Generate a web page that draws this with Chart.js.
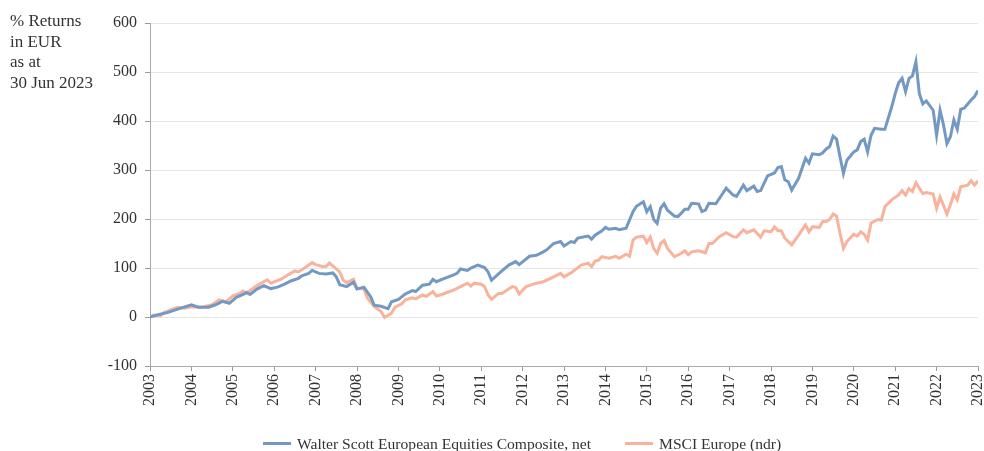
<!DOCTYPE html>
<html>
<head>
<meta charset="utf-8">
<script src="https://cdn.jsdelivr.net/npm/chart.js@4"></script>
<style>
  html, body { margin: 0; padding: 0; background: #fff; }
  #wrap { position: relative; width: 984px; height: 451px; font-family: "Liberation Serif", "DejaVu Serif", serif; color: #333; }
  #title { position: absolute; left: 10px; top: 11px; font-size: 17px; line-height: 20.5px; color: #333; }
  #legend { position: absolute; left: 263px; top: 431px; font-size: 15.6px; color: #333; white-space: nowrap; }
  .item { display: inline-flex; align-items: center; }
  .swatch { display: inline-block; width: 28px; height: 3px; margin-right: 6px; }
  canvas { position: absolute; left: 0; top: 0; }
</style>
</head>
<body>
<div id="wrap">
  <canvas id="c" width="984" height="451"></canvas>
  <div id="title">% Returns<br>in EUR<br>as at<br>30 Jun 2023</div>
  <div id="legend">
    <span class="item"><span class="swatch" style="background:#7399c3"></span>Walter Scott European Equities Composite, net</span>
    <span class="item" style="margin-left:30px"><span class="swatch" style="background:#f9b29c"></span>MSCI Europe (ndr)</span>
  </div>
</div>
<script>
// Month index since start (0 = start of 2003, 240 = 2023)
const startYear = 2003;
const yTicks = [-100, 0, 100, 200, 300, 400, 500, 600];
const seriesNames = ["Walter Scott European Equities Composite, net", "MSCI Europe (ndr)"];

const wsMonths = [0,2,5,8,12,14,17,19,21,23,25,27,28,29,31,33,35,37,39,41,43,44,46,47,48,49,51,53,54,55,57,59,60,62,64,65,67,69,70,72,74,76,77,79,81,82,83,85,88,89,90,92,93,95,97,98,99,101,102,104,106,107,110,112,114,115,117,119,120,122,123,124,127,128,129,131,132,133,135,136,138,140,141,143,144,145,146,147,148,149,150,152,153,154,155,156,157,159,160,161,162,164,166,167,169,170,172,173,175,176,177,179,181,182,183,184,185,186,188,190,191,192,194,195,196,197,198,199,200,201,202,204,205,206,207,208,209,210,212,213,214,215,216,217,218,219,220,221,222,223,224,225,227,228,229,230,231,232,233,234,235,236,238,239,240];
const wsValues = [0,4,9,16,25,20,20,25,32,28,40,46,50,46,57,64,58,61,67,74,79,84,89,95,92,89,88,90,82,66,62,71,57,61,41,24,22,17,31,36,47,54,52,65,67,77,72,78,86,89,98,95,100,106,101,92,75,88,94,106,113,107,124,126,133,137,150,154,145,154,152,161,165,159,167,176,183,179,181,178,181,215,226,235,215,225,199,191,222,231,218,206,205,212,220,220,232,231,215,218,232,231,252,263,249,246,269,258,267,256,258,288,294,305,307,280,276,259,283,324,314,333,331,335,343,348,369,363,327,293,320,337,341,358,363,337,371,385,383,383,406,429,456,478,487,460,487,492,521,456,435,441,422,371,422,392,354,368,402,383,424,426,443,450,462];

const msMonths = [0,1,3,4,8,10,12,15,18,20,22,24,26,27,28,31,34,35,38,40,42,43,45,47,48,50,51,52,54,55,56,57,59,60,62,63,65,67,68,70,71,73,74,76,77,79,80,82,83,85,86,88,90,92,93,94,96,97,98,99,101,102,105,106,107,109,112,114,117,119,120,122,125,127,128,129,130,131,133,135,136,138,139,140,141,143,144,145,146,147,148,149,150,152,154,155,156,157,159,161,162,163,165,167,169,170,172,173,175,177,178,180,181,182,183,184,186,188,190,191,192,194,195,196,197,198,199,200,201,202,204,205,206,207,208,209,211,212,213,215,217,218,219,220,221,222,224,225,227,228,229,231,232,233,234,235,237,238,239,240];
const msValues = [0,4,2,9,20,18,21,20,25,35,31,43,48,53,49,64,76,69,77,86,94,92,101,111,107,103,103,110,98,92,75,70,77,59,57,39,21,11,-1,8,20,27,35,39,37,45,42,52,43,47,50,55,62,69,63,69,67,62,45,36,48,48,62,60,47,62,69,72,82,89,82,90,106,110,103,114,116,123,120,124,120,128,124,157,163,165,152,163,140,130,150,156,140,123,130,135,127,133,135,131,150,150,164,172,164,163,178,172,178,163,176,174,184,176,176,161,147,167,188,174,184,183,195,195,199,210,206,171,140,154,169,165,174,169,157,192,199,198,225,239,249,258,249,262,256,274,252,254,251,222,245,210,229,251,239,266,269,278,269,278];

const toPoints = (xs, ys) => xs.map((x, i) => ({ x: x, y: ys[i] }));

const serif = '"Liberation Serif", "DejaVu Serif", serif';

new Chart(document.getElementById('c'), {
  type: 'line',
  data: {
    datasets: [
      { label: seriesNames[0], data: toPoints(wsMonths, wsValues), borderColor: '#7399c3', borderWidth: 3, pointRadius: 0, tension: 0, order: 1 },
      { label: seriesNames[1], data: toPoints(msMonths, msValues), borderColor: '#f9b29c', borderWidth: 3, pointRadius: 0, tension: 0, order: 2 }
    ]
  },
  options: {
    responsive: false,
    animation: false,
    layout: { padding: { left: 0, right: 6, top: 23, bottom: 35 } },
    plugins: { legend: { display: false }, tooltip: { enabled: false } },
    scales: {
      x: {
        type: 'linear', min: 0, max: 240,
        afterBuildTicks: (s) => { s.ticks = []; for (let m = 0; m <= 240; m += 12) s.ticks.push({ value: m }); },
        afterFit: (s) => { s.height = 50; s.paddingLeft = 0; s.paddingRight = 0; },
        ticks: {
          minRotation: 90, maxRotation: 90, autoSkip: false, padding: 3,
          color: '#333', font: { family: serif, size: 16 },
          callback: (v) => String(startYear + v / 12)
        },
        grid: { drawOnChartArea: false, drawTicks: true, tickLength: 5, tickColor: '#999' },
        border: { display: true, color: '#aaa', width: 1 }
      },
      y: {
        min: -100, max: 600,
        afterBuildTicks: (s) => { s.ticks = yTicks.map(v => ({ value: v })); },
        afterFit: (s) => { s.width = 150; s.paddingTop = 0; s.paddingBottom = 0; },
        ticks: { color: '#333', padding: 8, font: { family: serif, size: 16 } },
        grid: { color: '#e6e6e6', lineWidth: 1, drawTicks: true, tickLength: 5, tickColor: '#999' },
        border: { display: true, color: '#aaa', width: 1 }
      }
    }
  }
});
</script>
</body>
</html>
